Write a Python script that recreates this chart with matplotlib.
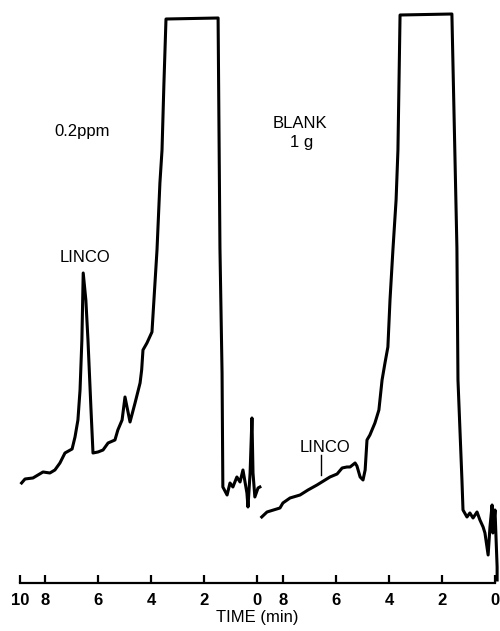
import numpy as np
import matplotlib
matplotlib.use("Agg")
import matplotlib.pyplot as plt

plt.rcParams['font.family'] = ['Liberation Sans', 'DejaVu Sans']

# 0.2 ppm sample trace: retention time (min) and detector response (arb.)
t_sample = [8.90, 8.77, 8.47, 8.09, 7.83, 7.64, 7.45, 7.26, 6.99, 6.88, 6.77, 6.69,
            6.62, 6.57, 6.47, 6.39, 6.28, 6.20, 6.01, 5.82, 5.63, 5.37, 5.26, 5.10,
            4.99, 4.80, 4.61, 4.42, 4.36, 4.31, 4.16, 3.97, 3.78, 3.67, 3.59, 3.52,
            3.44, 1.47, 1.40, 1.32, 1.29, 1.13, 1.02, 0.91, 0.76, 0.64, 0.53, 0.38,
            0.34, 0.26, 0.19, 0.15, 0.08, -0.04, -0.11]
s_sample = [100, 104, 105, 111, 110, 113, 120, 130, 134, 146, 163, 193,
            243, 310, 283, 243, 176, 130, 131, 133, 140, 143, 153, 163,
            186, 161, 180, 200, 213, 233, 240, 251, 333, 400, 433, 498,
            564, 565, 335, 210, 96, 88, 100, 96, 106, 101, 113, 90,
            76, 110, 165, 110, 86, 95, 96]

# blank (1 g) trace
t_blank = [8.82, 8.62, 8.13, 8.02, 7.75, 7.37, 7.07, 6.73, 6.24, 5.97, 5.78, 5.60,
           5.48, 5.29, 5.22, 5.10, 4.99, 4.91, 4.84, 4.73, 4.54, 4.39, 4.27, 4.16,
           4.05, 3.97, 3.86, 3.74, 3.67, 3.59, 1.63, 1.44, 1.40, 1.25, 1.21, 1.06,
           0.95, 0.83, 0.68, 0.57, 0.45, 0.38, 0.26, 0.19, 0.11, 0.08, 0.00, -0.08,
           -0.08]
s_blank = [66, 71, 75, 80, 85, 88, 93, 98, 106, 109, 115, 116,
           116, 120, 117, 106, 103, 113, 143, 148, 160, 173, 203, 220,
           236, 283, 333, 383, 433, 568, 569, 335, 203, 103, 73, 66,
           70, 65, 71, 63, 56, 50, 28, 56, 78, 50, 73, 16,
           3]

tick_pos = [-8.96, -8, -6, -4, -2, 0, 1, 3, 5, 7, 9]
tick_labels = ['10', '8', '6', '4', '2', '0', '8', '6', '4', '2', '0']

# the two runs are laid side by side on one time axis
blank_offset = 9.0

fig = plt.figure(figsize=(5, 6.31), dpi=100)
ax = fig.add_axes([0.04, 0.0761, 0.95, 0.9239])

u_sample = -np.array(t_sample)
u_blank = blank_offset - np.array(t_blank)
ax.plot(u_sample, s_sample, color='black', lw=2.2, solid_joinstyle='round', clip_on=False)
ax.plot(u_blank, s_blank, color='black', lw=2.2, solid_joinstyle='round', clip_on=False)

ax.set_xlim(-8.96, 9.0)
ax.set_ylim(0, 583)

for sp in ['top', 'right', 'left']:
    ax.spines[sp].set_visible(False)
ax.spines['bottom'].set_linewidth(1.6)
ax.set_yticks([])
ax.set_xticks(tick_pos)
ax.set_xticklabels(tick_labels, fontsize=12, fontweight='bold')
ax.tick_params(axis='x', direction='in', length=6, width=1.6, pad=7)
ax.set_xlabel('TIME (min)', fontsize=12, labelpad=2)

ax.text(-6.62, 451, '0.2ppm', ha='center', va='center', fontsize=12)
ax.text(-6.50, 325, 'LINCO', ha='center', va='center', fontsize=12)
ax.text(1.63, 459, 'BLANK', ha='center', va='center', fontsize=12)
ax.text(1.70, 440, '1 g', ha='center', va='center', fontsize=12)
ax.text(2.57, 135, 'LINCO', ha='center', va='center', fontsize=12)
ax.plot([2.42, 2.42], [108, 128], color='black', lw=1)

fig.savefig('out.png', dpi=100)
